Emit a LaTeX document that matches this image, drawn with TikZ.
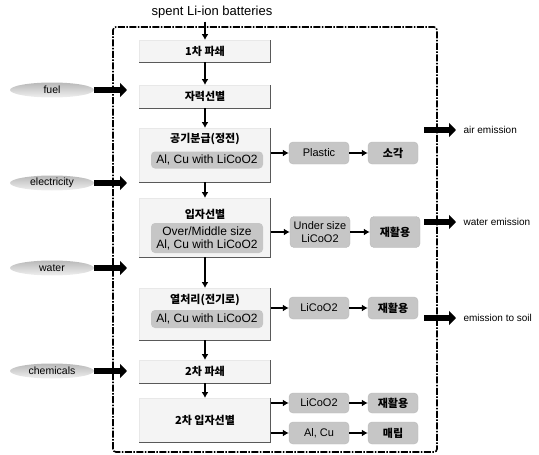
\documentclass[tikz,border=0pt]{standalone}
\usepackage{fontspec}
\setmainfont{Liberation Sans}
\newfontfamily\krfont{Noto Sans CJK KR}
\usetikzlibrary{shapes.geometric, arrows.meta, positioning}

\newcommand{\kr}{\krfont\bfseries\fontsize{11}{12}\selectfont}

\begin{document}
\begin{tikzpicture}[x=1pt, y=-1pt,
          procbox/.style={rectangle, fill=gray!9, draw=gray!18, minimum width=131pt, anchor=north, inner sep=0pt},
          subbox/.style={rectangle, rounded corners=4pt, fill=gray!45, minimum width=112pt, inner sep=2pt, align=center, font=\fontsize{12}{13}\selectfont},
          sidebox/.style={rectangle, rounded corners=4pt, fill=gray!45, draw=gray!55, minimum width=60pt, minimum height=22pt, inner sep=1pt, align=center, font=\fontsize{11}{12.5}\selectfont},
          endbox/.style={sidebox, minimum width=50pt, font=\kr},
          source/.style={ellipse, minimum width=84pt, minimum height=15pt, inner sep=0pt, top color=gray!55, bottom color=gray!12, font=\fontsize{10.5}{11}\selectfont},
          outlabel/.style={anchor=west, font=\fontsize{10}{11}\selectfont},
          arrow/.style={-{Latex[length=6pt,width=7pt]}, line width=1.8pt},
          bigarrow/.style={-{Triangle[length=7pt,width=14pt]}, line width=6pt},
          frame/.style={line width=1.6pt, dash pattern=on 7pt off 1.5pt on 1.5pt off 1.5pt}
        ]
          \useasboundingbox (0,0) rectangle (539,455);
          % system boundary
          \draw[frame, rounded corners=3pt] (113,452) -- (113,27) -- (437,27) -- (437,452) -- cycle;
          \node[font=\fontsize{13}{14}\selectfont] (spent) at (212,12) {spent Li-ion batteries};

          % process column
          \node[procbox, minimum height=22pt] (crush1) at (205,40) {\kr 1차 파쇄};
          \node[procbox, minimum height=23pt] (magsep) at (205,85) {\kr 자력선별};
          \node[procbox, minimum height=54pt] (aircls) at (205,128) {};
          \node[font=\kr] (aircls-t) at (205,139) {공기분급(정전)};
          \node[subbox, minimum height=17pt] (aircls-s) at (207,160) {Al, Cu with LiCoO2};
          \node[procbox, minimum height=59pt] (partsep) at (205,198) {};
          \node[font=\kr] (partsep-t) at (205,214) {입자선별};
          \node[subbox, minimum height=30pt] (partsep-s) at (207,238) {Over/Middle size\\Al, Cu with LiCoO2};
          \node[procbox, minimum height=52pt] (heat) at (205,288) {};
          \node[font=\kr] (heat-t) at (205,300) {열처리(전기로)};
          \node[subbox, minimum height=18pt] (heat-s) at (207,319) {Al, Cu with LiCoO2};
          \node[procbox, minimum height=23pt] (crush2) at (205,360) {\kr 2차 파쇄};
          \node[procbox, minimum height=44pt] (partsep2) at (205,398) {\kr 2차 입자선별};

          % dark edges of the boxes
          \foreach \n in {crush1, magsep, aircls, partsep, heat, crush2, partsep2}
            \draw[gray!70!black, line width=1.5pt] (\n.north east) -- (\n.south east) -- (\n.south west);

          % side products
          \node[sidebox] (plastic) at (319,153) {Plastic};
          \node[endbox] (incin) at (393,153) {소각};
          \node[sidebox, minimum height=31pt] (under) at (320,232) {Under size\\LiCoO2};
          \node[endbox, minimum height=31pt] (recyc1) at (395,232) {재활용};
          \node[sidebox] (lico1) at (319,308) {LiCoO2};
          \node[endbox] (recyc2) at (393,308) {재활용};
          \node[sidebox, minimum height=20pt] (lico2) at (319,403) {LiCoO2};
          \node[endbox, minimum height=20pt] (recyc3) at (393,403) {재활용};
          \node[sidebox] (alcu) at (319,433) {Al, Cu};
          \node[endbox] (landfill) at (393,433) {매립};

          % inputs
          \node[source] (fuel) at (52,90) {fuel};
          \node[source] (elec) at (52,183) {electricity};
          \node[source] (water) at (52,268) {water};
          \node[source] (chem) at (52,371) {chemicals};
          \foreach \n/\y in {fuel/90, elec/183, water/268, chem/371}
            \coordinate (\n-in) at (127,\y);

          % outputs
          \node[outlabel] (air) at (460,130) {air emission};
          \node[outlabel] (wateremi) at (460,222) {water emission};
          \node[outlabel] (soil) at (460,318) {emission to soil};
          \foreach \n/\y in {air/130, wateremi/222, soil/318}
            \coordinate (\n-out) at (424,\y);

          % main flow
          \draw[arrow] (spent.south -| crush1) -- (crush1);
          \draw[arrow] (crush1) -- (magsep);
          \draw[arrow] (magsep) -- (aircls);
          \draw[arrow] (aircls) -- (partsep);
          \draw[arrow] (partsep) -- (heat);
          \draw[arrow] (heat) -- (crush2);
          \draw[arrow] (crush2) -- (partsep2);

          % side flows
          \draw[arrow] (aircls.east |- plastic) -- (plastic);
          \draw[arrow] (plastic) -- (incin);
          \draw[arrow] (partsep.east |- under) -- (under);
          \draw[arrow] (under) -- (recyc1);
          \draw[arrow] (heat.east |- lico1) -- (lico1);
          \draw[arrow] (lico1) -- (recyc2);
          \draw[arrow] (partsep2.east |- lico2) -- (lico2);
          \draw[arrow] (lico2) -- (recyc3);
          \draw[arrow] (partsep2.east |- alcu) -- (alcu);
          \draw[arrow] (alcu) -- (landfill);

          % inputs and emissions
          \foreach \n in {fuel, elec, water, chem}
            \draw[bigarrow] (\n) -- (\n-in);
          \foreach \n in {air, wateremi, soil}
            \draw[bigarrow, shorten >=4pt] (\n-out) -- (\n);
        \end{tikzpicture}
\end{document}
